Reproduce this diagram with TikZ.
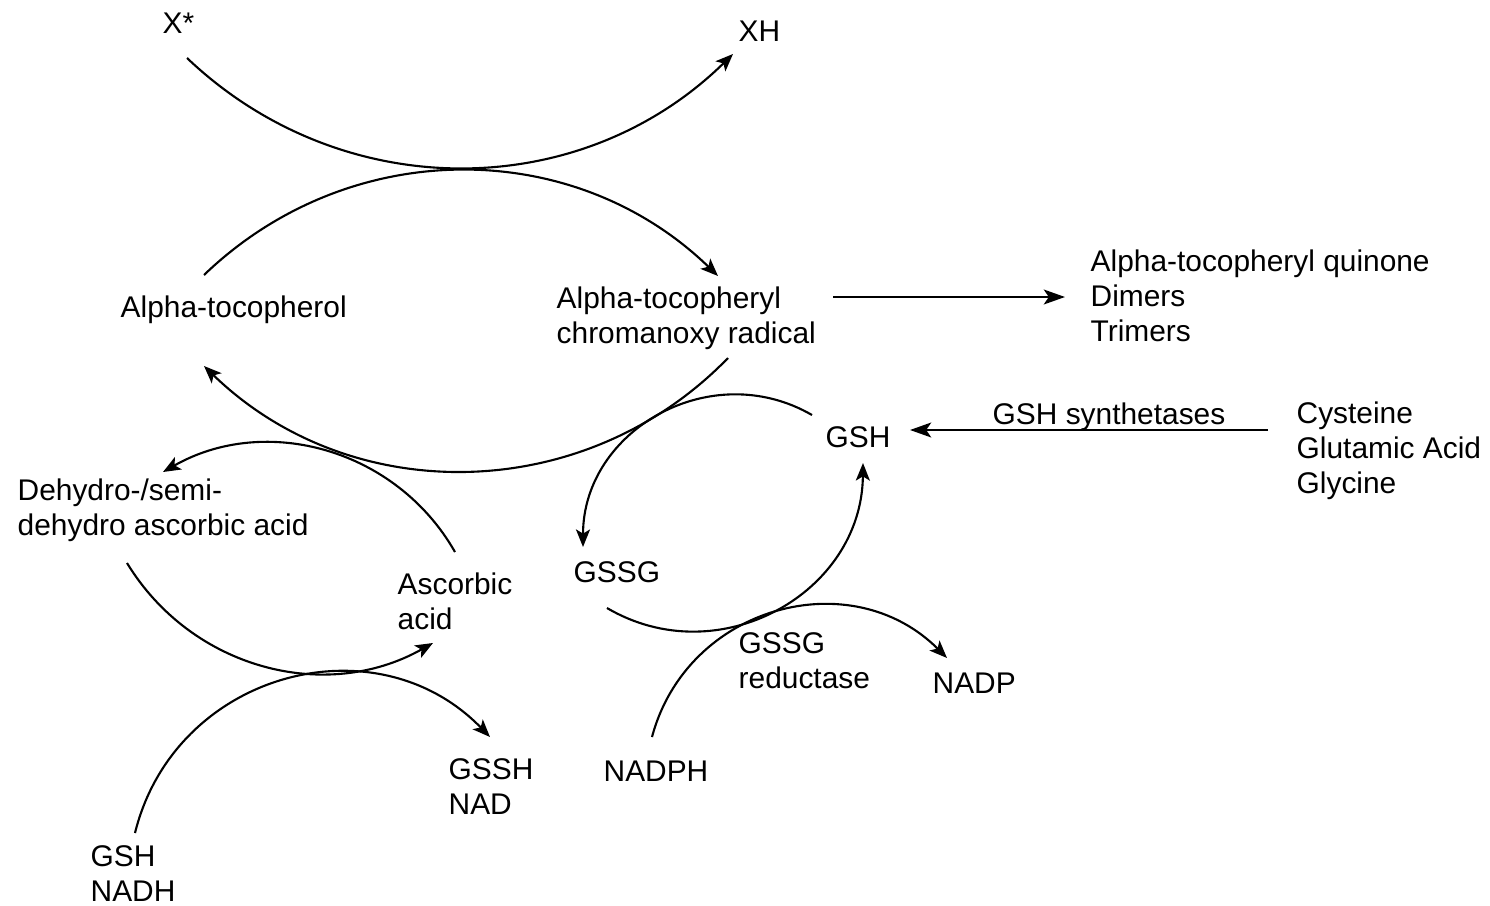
\documentclass[tikz,border=0pt]{standalone}
\usepackage{fontspec}
\setmainfont{Liberation Sans}
\usetikzlibrary{arrows.meta}

\begin{document}
\begin{tikzpicture}[x=0.01cm, y=-0.01cm,
    txt/.style={font=\fontsize{8.5}{10}\selectfont, inner sep=0pt, align=left, anchor=north west},
    rx/.style={-{Stealth[length=5pt, width=4pt, inset=1.2pt]}, line width=0.6pt},
    bar/.style={-{Stealth[length=6pt, width=4.2pt, inset=1.4pt]}, line width=0.8pt}]
      \useasboundingbox (0,0) rectangle (1490,906);

      % Nodes
      \node[txt] (xstar) at (162,12)  {X*};
      \node[txt] (xh)    at (738,20)  {XH};
      \node[txt] (toc)   at (120,295) {Alpha-tocopherol};
      \node[txt] (rad)   at (556,286) {Alpha-tocopheryl\\chromanoxy radical};
      \node[txt] (prod)  at (1090,249) {Alpha-tocopheryl quinone\\Dimers\\Trimers};
      \node[txt] (gsh)   at (825,426) {GSH};
      \node[txt] (syn)   at (992,402) {GSH synthetases};
      \node[txt] (amino) at (1296,401) {Cysteine\\Glutamic Acid\\Glycine};
      \node[txt] (dha)   at (17,478)  {Dehydro-/semi-\\dehydro ascorbic acid};
      \node[txt] (asc)   at (397,572) {Ascorbic\\acid};
      \node[txt] (gssg)  at (573,561) {GSSG};
      \node[txt] (red)   at (738,632) {GSSG\\reductase};
      \node[txt] (nadp)  at (932,672) {NADP};
      \node[txt] (nadph) at (603,760) {NADPH};
      \node[txt] (gssh)  at (448,758) {GSSH\\NAD};
      \node[txt] (nadh)  at (90,845)  {GSH\\NADH};

      % arc ends
      \coordinate (xs) at (187,58);   \coordinate (xe) at (733,54);
      \coordinate (ts) at (204,275);  \coordinate (te) at (718,276);
      \coordinate (rs) at (728,358);  \coordinate (re) at (204,366);
      \coordinate (gs) at (812,415);  \coordinate (ge) at (583,547);
      \coordinate (ss) at (607,608);  \coordinate (se) at (863,463);
      \coordinate (as) at (455,552);  \coordinate (ae) at (163,472);
      \coordinate (ds) at (127,563);  \coordinate (de) at (433,643);
      \coordinate (ns) at (135,833);  \coordinate (ne) at (490,737);
      \coordinate (ps) at (652,737);  \coordinate (pe) at (947,658);
      \coordinate (os) at (833,297);  \coordinate (oe) at (1065,297);
      \coordinate (ys) at (1268,430); \coordinate (ye) at (910,430);

      % Edges
      \path[rx]
        (xs) edge[bend right=44] (xe)
        (ts) edge[bend left=44] (te)
        (rs) edge[bend left=45] (re)
        (gs) edge[bend right=60, looseness=1.13] (ge)
        (ss) edge[bend right=60, looseness=1.13] (se)
        (as) edge[bend right=45] (ae)
        (ds) edge[bend right=44] (de)
        (ns) edge[bend left=61, looseness=1.15] (ne)
        (ps) edge[bend left=60, looseness=1.14] (pe);
      \path[bar]
        (os) edge (oe)
        (ys) edge (ye);
    \end{tikzpicture}
\end{document}
